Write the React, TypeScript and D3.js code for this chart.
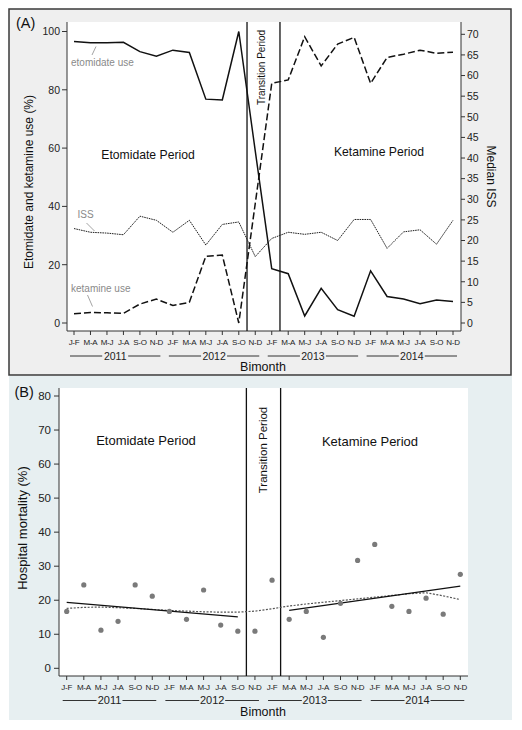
import React from "react";
import * as d3 from "d3";

// ---------- DATA ----------
const bimonths = ["J-F", "M-A", "M-J", "J-A", "S-O", "N-D"];
const years = ["2011", "2012", "2013", "2014"];
const tickLabels = years.flatMap(() => bimonths);

// Panel A (left axis, %)
const etomidateUse = [96.6, 96.1, 96.1, 96.3, 93.1, 91.5, 93.6, 92.8, 76.8, 76.5, 100, 59, 18.6, 16.9, 2.4, 11.9, 4.6, 2.3, 17.9, 9.1, 8.2, 6.6, 7.9, 7.4];
const ketamineUse = [3.2, 3.6, 3.5, 3.3, 6.5, 8.2, 6.0, 7.1, 22.9, 23.3, 0, 41, 82.2, 83.4, 98.2, 88.2, 95.7, 98.0, 82.2, 91.1, 92.2, 93.6, 92.5, 92.9];
// Panel A (right axis, median ISS)
const medianISS = [22.9, 22.0, 21.8, 21.4, 25.9, 24.9, 22.0, 24.9, 18.9, 23.9, 24.5, 16.1, 20.5, 22.0, 21.5, 22.0, 20.0, 25.1, 25.1, 18.1, 22.1, 22.6, 19.1, 24.9];

// Panel B
const mortality = [16.7, 24.5, 11.2, 13.8, 24.5, 21.2, 16.7, 14.4, 23.0, 12.7, 10.9, 10.9, 25.9, 14.4, 16.7, 9.1, 19.1, 31.7, 36.4, 18.2, 16.7, 20.6, 15.9, 27.6];
const mortalitySmooth = [17.6, 17.9, 18.0, 17.8, 17.6, 17.3, 17.0, 16.8, 16.6, 16.5, 16.5, 16.8, 17.5, 18.3, 18.9, 19.4, 19.9, 20.4, 20.9, 21.4, 21.9, 22.2, 21.3, 20.2];
const preIdx = [0, 10];
const postIdx = [13, 23];
const periodBreaks = [10.5, 12.5];

const leftTicksA = [0, 20, 40, 60, 80, 100];
const rightTicksA = [0, 5, 10, 15, 20, 25, 30, 35, 40, 45, 50, 55, 60, 65, 70];
const ticksB = [0, 10, 20, 30, 40, 50, 60, 70, 80];

const FONT = "'Liberation Sans', Arial, Helvetica, sans-serif";

function fit(idx: number[], vals: number[]) {
  const xs = d3.range(idx[0], idx[1] + 1);
  const ys = xs.map((i) => vals[i]);
  const mx = d3.mean(xs) as number;
  const my = d3.mean(ys) as number;
  const sxy = d3.sum(xs.map((x, k) => (x - mx) * (ys[k] - my)));
  const sxx = d3.sum(xs.map((x) => (x - mx) ** 2));
  const b = sxy / sxx;
  const a = my - b * mx;
  return [idx[0], idx[1]].map((x) => [x, a + b * x] as [number, number]);
}

function XAxis({ x, y0, labelY, yearY, titleY, fsYear }: any) {
  return (
    <g>
      {tickLabels.map((t, i) => (
        <g key={i}>
          <line x1={x(i)} x2={x(i)} y1={y0} y2={y0 + 4} stroke="#333" strokeWidth={1} />
          <text x={x(i)} y={labelY} fontSize={8} textAnchor="middle" fill="#222" letterSpacing={-0.3}>
            {t}
          </text>
        </g>
      ))}
      {years.map((yr, k) => {
        const a = x(k * 6) - 4;
        const b = x(k * 6 + 5) + 4;
        const c = (x(k * 6) + x(k * 6 + 5)) / 2;
        const hw = 13;
        return (
          <g key={yr}>
            <line x1={a} x2={c - hw} y1={yearY - 3.5} y2={yearY - 3.5} stroke="#333" strokeWidth={1} />
            <line x1={c + hw} x2={b} y1={yearY - 3.5} y2={yearY - 3.5} stroke="#333" strokeWidth={1} />
            <text x={c} y={yearY} fontSize={fsYear} textAnchor="middle" fill="#222">
              {yr}
            </text>
          </g>
        );
      })}
      <text x={263} y={titleY} fontSize={12.5} textAnchor="middle" fill="#111">
        Bimonth
      </text>
    </g>
  );
}

export default function App() {
  // Panel A scales
  const xA = d3.scaleLinear().domain([0, 23]).range([74, 453]);
  const yL = d3.scaleLinear().domain([0, 100]).range([323, 31.5]);
  const yR = d3.scaleLinear().domain([0, 70]).range([323, 34.3]);
  const A = { l: 67, r: 461, t: 22, b: 331 };

  // Panel B scales
  const xB = d3.scaleLinear().domain([0, 23]).range([66.7, 460.3]);
  const yB = d3.scaleLinear().domain([0, 80]).range([668.3, 396]);
  const B = { l: 59, r: 468, t: 388, b: 676 };

  const lineL = d3.line<number>().x((_, i) => xA(i)).y((d) => yL(d));
  const lineR = d3.line<number>().x((_, i) => xA(i)).y((d) => yR(d));
  const lineB = d3.line<number>().x((_, i) => xB(i)).y((d) => yB(d));
  const lineFit = d3.line<[number, number]>().x((d) => xB(d[0])).y((d) => yB(d[1]));

  const preFit = fit(preIdx, mortality);
  const postFit = fit(postIdx, mortality);

  return (
    <svg width={522} height={730} style={{ display: "block", position: "absolute", left: 0, top: 0 }} fontFamily={FONT}>
      <rect x={0} y={0} width={522} height={730} fill="#fff" />
      {/* ---------- Panel A ---------- */}
      <rect x={9} y={9} width={502} height={366} fill="#efefef" stroke="#3a3a3a" strokeWidth={1.5} />
      <rect x={A.l} y={A.t} width={A.r - A.l} height={A.b - A.t} fill="#fff" />
      <text x={16} y={28} fontSize={14.5} fill="#111">(A)</text>

      {/* axes */}
      <line x1={A.l} x2={A.l} y1={A.t} y2={A.b} stroke="#333" strokeWidth={1} />
      <line x1={A.r} x2={A.r} y1={A.t} y2={A.b} stroke="#333" strokeWidth={1} />
      <line x1={A.l} x2={A.r} y1={A.b} y2={A.b} stroke="#333" strokeWidth={1} />
      {leftTicksA.map((v) => (
        <g key={v}>
          <line x1={A.l - 5} x2={A.l} y1={yL(v)} y2={yL(v)} stroke="#333" />
          <text x={A.l - 7} y={yL(v) + 3.8} fontSize={10.5} textAnchor="end" fill="#222">{v}</text>
        </g>
      ))}
      {rightTicksA.map((v) => (
        <g key={v}>
          <line x1={A.r} x2={A.r + 4} y1={yR(v)} y2={yR(v)} stroke="#333" />
          <text x={A.r + 6} y={yR(v) + 3.8} fontSize={10.5} textAnchor="start" fill="#222">{v}</text>
        </g>
      ))}
      <text transform={`translate(33,182) rotate(-90)`} fontSize={12} textAnchor="middle" fill="#111">
        Etomidate and ketamine use (%)
      </text>
      <text transform={`translate(487,176.5) rotate(90)`} fontSize={12} textAnchor="middle" fill="#111">
        Median ISS
      </text>
      <XAxis x={xA} y0={A.b} labelY={345} yearY={359.5} titleY={371} fsYear={10.5} />

      {/* period lines */}
      {periodBreaks.map((p) => (
        <line key={p} x1={xA(p)} x2={xA(p)} y1={A.t} y2={A.b} stroke="#111" strokeWidth={1.3} />
      ))}
      <text x={148} y={159} fontSize={12.2} textAnchor="middle" fill="#111">Etomidate Period</text>
      <text x={379} y={156} fontSize={12.2} textAnchor="middle" fill="#111">Ketamine Period</text>
      <text transform={`translate(264.5,67.5) rotate(-90)`} fontSize={10} textAnchor="middle" fill="#111">
        Transition Period
      </text>

      {/* series */}
      <path d={lineR(medianISS) as string} fill="none" stroke="#222" strokeWidth={1} strokeDasharray="1.6,0.8" />
      <path d={lineL(ketamineUse) as string} fill="none" stroke="#111" strokeWidth={1.5} strokeDasharray="7,3" />
      <path d={lineL(etomidateUse) as string} fill="none" stroke="#111" strokeWidth={1.5} />

      {/* annotations */}
      <line x1={96} y1={46.5} x2={92} y2={55} stroke="#999" strokeWidth={0.9} />
      <text x={71} y={66} fontSize={10} fill="#8a8a8a">etomidate use</text>
      <line x1={86.5} y1={223} x2={94.5} y2={231} stroke="#999" strokeWidth={0.9} />
      <text x={77.5} y={217.5} fontSize={10} fill="#8a8a8a">ISS</text>
      <line x1={87.5} y1={295} x2={92.5} y2={306.5} stroke="#999" strokeWidth={0.9} />
      <text x={71} y={292} fontSize={10} fill="#8a8a8a">ketamine use</text>

      {/* ---------- Panel B ---------- */}
      <rect x={9} y={376} width={503} height={344} fill="#e7eff1" />
      <rect x={B.l} y={B.t} width={B.r - B.l} height={B.b - B.t} fill="#fff" />
      <text x={14.5} y={397} fontSize={14.5} fill="#111">(B)</text>

      <line x1={B.l} x2={B.l} y1={B.t} y2={B.b} stroke="#333" strokeWidth={1} />
      <line x1={B.l} x2={B.r} y1={B.b} y2={B.b} stroke="#333" strokeWidth={1} />
      {ticksB.map((v) => (
        <g key={v}>
          <line x1={B.l - 5} x2={B.l} y1={yB(v)} y2={yB(v)} stroke="#333" />
          <text x={B.l - 8} y={yB(v) + 4} fontSize={11.5} textAnchor="end" fill="#222">{v}</text>
        </g>
      ))}
      <text transform={`translate(27,528) rotate(-90)`} fontSize={13} textAnchor="middle" fill="#111">
        Hospital mortality (%)
      </text>
      <XAxis x={xB} y0={B.b} labelY={690} yearY={704} titleY={715.5} fsYear={11} />

      {periodBreaks.map((p) => (
        <line key={p} x1={xB(p)} x2={xB(p)} y1={B.t} y2={B.b} stroke="#111" strokeWidth={1.3} />
      ))}
      <text x={146} y={445} fontSize={13} textAnchor="middle" fill="#111">Etomidate Period</text>
      <text x={370} y={445.5} fontSize={13} textAnchor="middle" fill="#111">Ketamine Period</text>
      <text transform={`translate(267,450) rotate(-90)`} fontSize={11.5} textAnchor="middle" fill="#111">
        Transition Period
      </text>

      <path d={lineB(mortalitySmooth) as string} fill="none" stroke="#555" strokeWidth={1.2} strokeDasharray="2,1.5" />
      <path d={lineFit(preFit) as string} fill="none" stroke="#111" strokeWidth={1.3} />
      <path d={lineFit(postFit) as string} fill="none" stroke="#111" strokeWidth={1.3} />
      {mortality.map((v, i) => (
        <circle key={i} cx={xB(i)} cy={yB(v)} r={2.6} fill="#7a7a7a" />
      ))}
    </svg>
  );
}
